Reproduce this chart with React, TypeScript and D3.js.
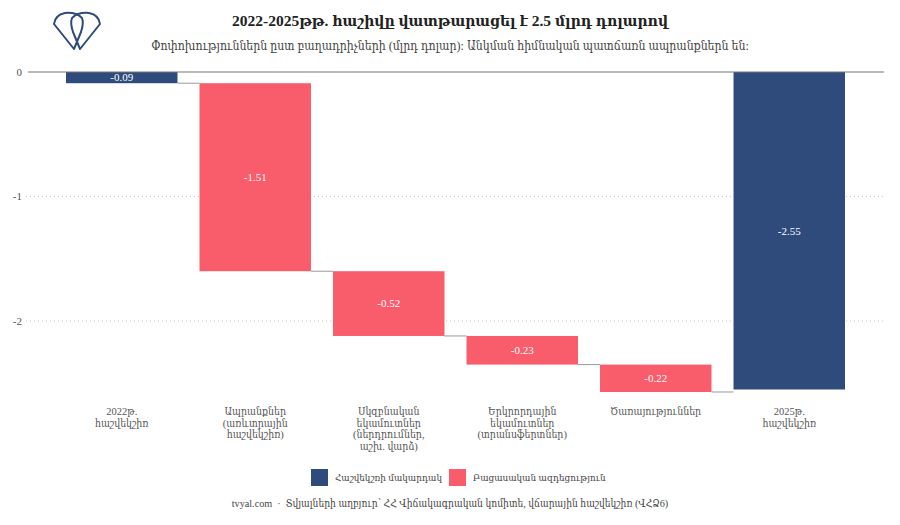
import { useEffect, useRef } from "react";
import * as d3 from "d3";

// waterfall data (billion USD)
const categories = [
    "2022թ.\nհաշվեկշիռ",
    "Ապրանքներ\n(առևտրային\nհաշվեկշիռ)",
    "Սկզբնական\nեկամուտներ\n(ներդրումներ,\nաշխ. վարձ)",
    "Երկրորդային\nեկամուտներ\n(տրանսֆերտներ)",
    "Ծառայություններ",
    "2025թ.\nհաշվեկշիռ",
];
const values = [-0.09, -1.51, -0.52, -0.23, -0.22, -2.55];
const kinds = ["level", "impact", "impact", "impact", "impact", "level"];
const yTicks = [0, -1, -2];
const legendItems = ["Հաշվեկշռի մակարդակ", "Բացասական ազդեցություն"];

const title = "2022-2025թթ. հաշիվը վատթարացել է 2.5 մլրդ դոլարով";
const subtitle = "Փոփոխություններն ըստ բաղադրիչների (մլրդ դոլար): Անկման հիմնական պատճառն ապրանքներն են:";
const caption = "tvyal.com  ·  Տվյալների աղբյուր՝ ՀՀ Վիճակագրական կոմիտե, վճարային հաշվեկշիռ (ՎՀՁ6)";

const NAVY = "#2e4b7b";
const RED = "#f95c6b";
const FONT = "'Liberation Serif', 'DejaVu Serif Condensed', serif";

export default function App() {
    const svgRef = useRef(null);
    const width = 900;
    const height = 525;

    useEffect(() => {
        const svg = d3.select(svgRef.current);
        svg.selectAll("*").remove();

        const x = d3.scaleBand()
            .domain(categories)
            .range([66, 845])
            .paddingInner(0.165)
            .paddingOuter(0);

        const y = d3.scaleLinear()
            .domain([0, -2.55])
            .range([72, 389.5]);

        // compute bar extents
        let running = 0;
        const bars = categories.map((c, i) => {
            let start, end;
            if (kinds[i] === "level") {
                start = 0;
                end = values[i];
                running = values[i];
            } else {
                start = running;
                end = running + values[i];
                running = end;
            }
            return { c, start, end, kind: kinds[i], v: values[i] };
        });

        // title block
        svg.append("text")
            .attr("x", 450).attr("y", 26)
            .attr("text-anchor", "middle")
            .style("font-family", FONT)
            .style("font-size", "15.5px")
            .style("font-weight", "bold")
            .attr("fill", "#222")
            .text(title);
        svg.append("text")
            .attr("x", 450).attr("y", 50)
            .attr("text-anchor", "middle")
            .style("font-family", FONT)
            .style("font-size", "12.2px")
            .attr("fill", "#444")
            .text(subtitle);

        // logo
        const logo = svg.append("g")
            .attr("fill", "none")
            .attr("stroke", NAVY)
            .attr("stroke-width", 2)
            .attr("stroke-linejoin", "round");
        logo.append("path")
            .attr("d", "M74 49 L54 24 Q55 15 65 13 Q76 12 82 18 Q84 23 81 32 Z");
        logo.append("path")
            .attr("d", "M80 49 L100 24 Q99 15 89 13 Q78 12 72 18 Q70 23 73 32 Z");

        // grid
        svg.append("g")
            .selectAll("line")
            .data(yTicks.filter(t => t !== 0))
            .join("line")
            .attr("x1", 26).attr("x2", 884)
            .attr("y1", d => y(d)).attr("y2", d => y(d))
            .attr("stroke", "#c8c8c8")
            .attr("stroke-dasharray", "1,3");

        svg.append("g")
            .selectAll("text")
            .data(yTicks)
            .join("text")
            .attr("x", 22)
            .attr("y", d => y(d))
            .attr("dy", "0.35em")
            .attr("text-anchor", "end")
            .style("font-family", FONT)
            .style("font-size", "11px")
            .attr("fill", "#555")
            .text(d => d3.format("d")(d).replace("−", "-"));

        // connectors
        svg.append("g")
            .selectAll("line")
            .data(bars.slice(0, -1))
            .join("line")
            .attr("x1", d => x(d.c) + x.bandwidth())
            .attr("x2", (d, i) => x(categories[i + 1]))
            .attr("y1", d => y(d.end))
            .attr("y2", d => y(d.end))
            .attr("stroke", "#999")
            .attr("stroke-width", 1);

        // bars
        svg.append("g")
            .selectAll("rect")
            .data(bars)
            .join("rect")
            .attr("x", d => x(d.c))
            .attr("y", d => y(Math.max(d.start, d.end)))
            .attr("width", x.bandwidth())
            .attr("height", d => Math.abs(y(d.end) - y(d.start)))
            .attr("fill", d => d.kind === "level" ? NAVY : RED);

        // value labels
        svg.append("g")
            .selectAll("text")
            .data(bars)
            .join("text")
            .attr("x", d => x(d.c) + x.bandwidth() / 2)
            .attr("y", d => (y(d.start) + y(d.end)) / 2)
            .attr("dy", "0.35em")
            .attr("text-anchor", "middle")
            .style("font-family", FONT)
            .style("font-size", "11px")
            .attr("fill", "#fff")
            .text(d => d3.format(".2f")(d.v).replace("−", "-"));

        // zero line
        svg.append("line")
            .attr("x1", 28).attr("x2", 884)
            .attr("y1", y(0)).attr("y2", y(0))
            .attr("stroke", "#777")
            .attr("stroke-width", 1.2);

        // category labels
        const cat = svg.append("g")
            .selectAll("text")
            .data(categories)
            .join("text")
            .attr("text-anchor", "middle")
            .style("font-family", FONT)
            .style("font-size", "10.5px")
            .attr("fill", "#555");
        cat.each(function (d) {
            const t = d3.select(this);
            d.split("\n").forEach((line, j) => {
                t.append("tspan")
                    .attr("x", x(d) + x.bandwidth() / 2)
                    .attr("y", 415 + j * 11.5)
                    .text(line);
            });
        });

        // legend
        const legend = svg.append("g");
        const lx = [311, 449];
        legendItems.forEach((item, i) => {
            legend.append("rect")
                .attr("x", lx[i]).attr("y", 469)
                .attr("width", 17).attr("height", 17)
                .attr("fill", i === 0 ? NAVY : RED);
            legend.append("text")
                .attr("x", lx[i] + 24).attr("y", 478)
                .attr("dy", "0.35em")
                .style("font-family", FONT)
                .style("font-size", "9.8px")
                .attr("fill", "#444")
                .text(item);
        });

        svg.append("text")
            .attr("x", 450).attr("y", 507)
            .attr("text-anchor", "middle")
            .attr("xml:space", "preserve")
            .style("white-space", "pre")
            .style("font-family", FONT)
            .style("font-size", "10.2px")
            .attr("fill", "#444")
            .text(caption);
    }, []);

    return (
        <svg
            ref={svgRef}
            width={width}
            height={height}
            style={{ position: "absolute", left: 0, top: 0, background: "#fff" }}
        />
    );
}
